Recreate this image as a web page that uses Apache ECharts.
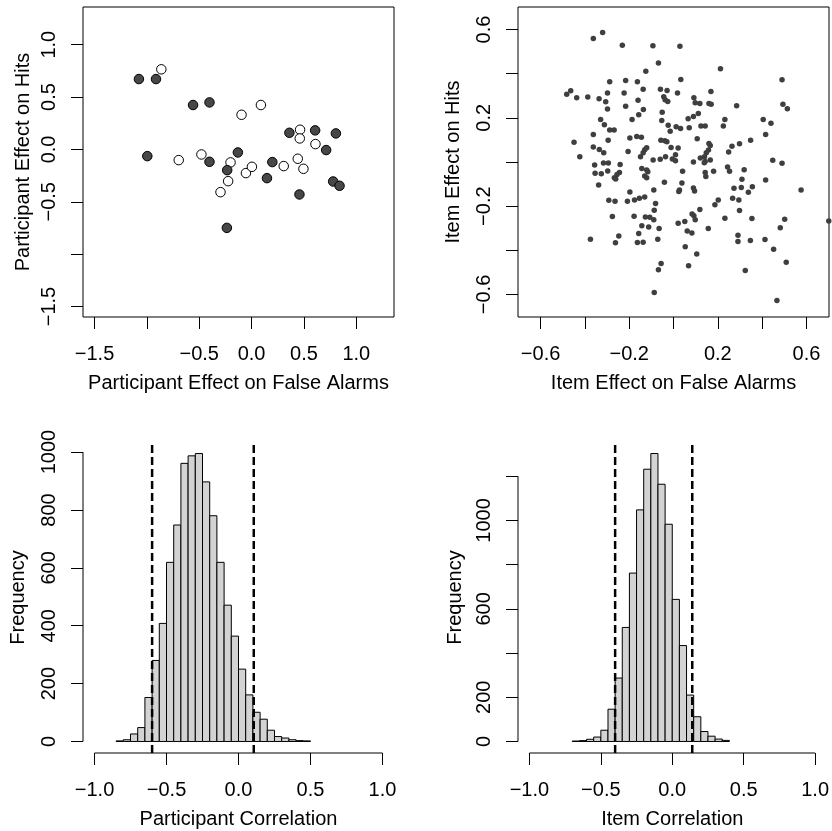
<!DOCTYPE html>
<html><head><meta charset="utf-8">
<script src="https://cdn.jsdelivr.net/npm/echarts@6/dist/echarts.min.js"></script>
<style>html,body{margin:0;padding:0;background:#fff}#c{width:832px;height:831px}</style>
</head><body><div id="c"></div>
<script>
// ---------- DATA ----------
const participantFilled = [
  [-1.076,0.672],[-0.913,0.672],[-0.559,0.424],[-0.402,0.449],[-0.996,-0.064],[-0.402,-0.118],
  [-0.131,-0.029],[-0.233,-0.198],[-0.236,-0.749],[0.147,-0.274],[0.198,-0.121],[0.361,0.159],
  [0.607,0.182],[0.805,0.153],[0.712,-0.006],[0.457,-0.430],[0.779,-0.306],[0.840,-0.347]
];
const participantOpen = [
  [-0.862,0.765],[-0.096,0.331],[0.089,0.424],[-0.696,-0.102],[-0.479,-0.048],[-0.201,-0.124],
  [-0.224,-0.303],[-0.297,-0.408],[-0.054,-0.226],[0.003,-0.166],[0.307,-0.159],[0.463,0.188],
  [0.460,0.105],[0.610,0.051],[0.441,-0.089],[0.495,-0.185]
];
const itemPoints = [
  [-0.362,0.559],[-0.320,0.586],[-0.231,0.529],[-0.093,0.526],[0.029,0.524],[-0.068,0.448],
  [0.212,0.422],[-0.125,0.411],[0.033,0.374],[0.490,0.372],[-0.288,0.363],[-0.216,0.369],
  [-0.163,0.363],[-0.137,0.329],[-0.059,0.329],[-0.029,0.324],[0.018,0.312],[0.169,0.319],
  [-0.482,0.307],[-0.464,0.323],[-0.437,0.291],[-0.387,0.294],[-0.336,0.286],[-0.298,0.313],
  [-0.306,0.273],[-0.223,0.313],[-0.160,0.280],[-0.044,0.295],[-0.026,0.274],[-0.038,0.282],
  [0.092,0.291],[0.098,0.268],[0.119,0.265],[0.160,0.265],[0.170,0.261],[0.285,0.255],
  [0.494,0.261],[0.514,0.241],[-0.298,0.240],[-0.216,0.252],[-0.136,0.238],[-0.157,0.214],
  [-0.051,0.225],[-0.053,0.188],[-0.187,0.193],[-0.329,0.193],[-0.312,0.169],[-0.288,0.145],
  [-0.268,0.145],[-0.362,0.124],[-0.295,0.099],[-0.449,0.090],[-0.197,0.109],[-0.166,0.115],
  [-0.145,0.112],[-0.057,0.099],[-0.039,0.096],[-0.030,0.092],[-0.024,0.166],[0.012,0.160],
  [0.032,0.152],[-0.015,0.139],[0.071,0.155],[0.066,0.196],[0.090,0.206],[0.112,0.220],
  [0.124,0.163],[0.143,0.163],[0.107,0.105],[0.232,0.193],[0.225,0.163],[0.405,0.193],
  [0.440,0.176],[0.416,0.124],[0.348,0.098],[0.298,0.083],[0.264,0.071],[0.249,0.045],
  [0.160,0.084],[0.166,0.075],[0.158,0.054],[0.148,0.042],[0.140,0.024],[0.121,0.018],
  [0.143,0.002],[0.166,0.009],[0.139,-0.003],[0.090,0.000],[0.021,0.063],[0.009,0.033],
  [-0.005,0.014],[0.009,0.006],[-0.011,0.066],[-0.060,0.012],[-0.036,0.024],[-0.092,0.009],
  [-0.121,0.065],[-0.130,0.056],[-0.137,0.042],[-0.149,0.024],[-0.205,0.047],[-0.315,0.042],
  [-0.335,0.057],[-0.362,0.068],[-0.423,0.024],[-0.356,-0.014],[-0.316,-0.005],[-0.294,-0.005],
  [-0.297,-0.041],[-0.326,-0.053],[-0.354,-0.051],[-0.338,-0.104],[-0.241,-0.011],[-0.244,-0.048],
  [-0.255,-0.057],[-0.267,-0.071],[-0.261,-0.077],[-0.143,-0.029],[-0.121,-0.036],[-0.116,-0.044],
  [-0.130,-0.063],[-0.121,-0.071],[-0.041,-0.092],[-0.089,-0.127],[-0.197,-0.136],[-0.208,-0.178],
  [-0.176,-0.172],[-0.154,-0.164],[-0.130,-0.158],[-0.292,-0.173],[-0.264,-0.178],[0.038,-0.095],
  [0.027,-0.127],[0.024,-0.134],[0.041,-0.042],[0.090,-0.118],[0.095,-0.131],[0.143,-0.048],
  [0.146,-0.066],[0.181,-0.042],[0.244,-0.023],[0.253,-0.042],[0.319,-0.035],[0.309,-0.078],
  [0.273,-0.119],[0.306,-0.116],[0.338,-0.137],[0.356,-0.112],[0.416,-0.081],[0.448,0.008],
  [0.490,-0.006],[0.576,-0.127],[0.267,-0.164],[0.295,-0.172],[0.202,-0.172],[0.187,-0.194],
  [0.298,-0.220],[0.232,-0.255],[0.354,-0.256],[0.119,-0.215],[0.092,-0.244],[0.084,-0.235],
  [0.098,-0.261],[0.021,-0.277],[0.051,-0.270],[0.062,-0.313],[0.083,-0.322],[0.157,-0.301],
  [0.053,-0.384],[0.105,-0.417],[0.068,-0.470],[-0.081,-0.188],[-0.087,-0.219],[-0.089,-0.261],
  [-0.127,-0.249],[-0.107,-0.250],[-0.178,-0.246],[-0.143,-0.289],[-0.112,-0.294],[-0.157,-0.324],
  [-0.163,-0.365],[-0.137,-0.363],[-0.065,-0.301],[-0.071,-0.350],[-0.247,-0.335],[-0.262,-0.366],
  [-0.276,-0.247],[-0.375,-0.350],[-0.056,-0.460],[-0.068,-0.488],[-0.087,-0.591],[0.291,-0.332],
  [0.291,-0.360],[0.347,-0.356],[0.413,-0.351],[0.452,-0.395],[0.482,-0.298],[0.502,-0.259],
  [0.509,-0.454],[0.324,-0.491],[0.467,-0.627],[0.701,-0.267]
];
// histogram bins (lower edges), width 0.05, and counts
const binWidth = 0.05;
const participantBinStarts = [-0.85,-0.80,-0.75,-0.70,-0.65,-0.60,-0.55,-0.50,-0.45,-0.40,-0.35,-0.30,-0.25,-0.20,-0.15,-0.10,-0.05,0.00,0.05,0.10,0.15,0.20,0.25,0.30,0.35,0.40,0.45];
const participantCounts   = [2,6,26,48,152,280,408,619,748,961,987,995,897,780,619,471,364,250,161,101,77,39,17,12,6,3,2];
const itemBinStarts = [-0.70,-0.65,-0.60,-0.55,-0.50,-0.45,-0.40,-0.35,-0.30,-0.25,-0.20,-0.15,-0.10,-0.05,0.00,0.05,0.10,0.15,0.20,0.25,0.30,0.35];
const itemCounts    = [2,4,10,20,51,146,287,516,762,1048,1232,1303,1164,983,643,434,210,112,45,24,11,5];
const participantInterval = [-0.60, 0.106];
const itemInterval = [-0.40, 0.14];
// tick values and labels
const pEffTicks = [-1.5,-1.0,-0.5,0.0,0.5,1.0];
const pEffLabels = [-1.5,-0.5,0.0,0.5,1.0];
const iEffTicks = [-0.6,-0.4,-0.2,0.0,0.2,0.4,0.6];
const iEffLabels = [-0.6,-0.2,0.2,0.6];
const corrTicks = [-1.0,-0.5,0.0,0.5,1.0];
const pFreqTicks = [0,200,400,600,800,1000];
const pFreqLabels = [0,200,400,600,800,1000];
const iFreqTicks = [0,200,400,600,800,1000,1200];
const iFreqLabels = [0,200,600,1000];

// ---------- CHART ----------
const FONT = 'Liberation Sans';
const minus = s => s.replace('-', '\u2212');
const fmt1 = v => minus((Math.abs(v) < 1e-9 ? 0 : v).toFixed(1));
const fmt0 = v => minus(String(Math.round(v)));

function axis(o) {
  return {
    type: 'value', gridIndex: o.grid, min: o.min, max: o.max,
    axisLine: { show: false, onZero: false },
    splitLine: { show: false },
    axisTick: { show: true, inside: false, length: 12, lineStyle: { color: '#000', width: 1 }, customValues: o.ticks },
    axisLabel: { show: true, customValues: o.labels, margin: o.margin, rotate: o.rotate || 0,
      fontFamily: FONT, fontSize: 20, color: '#000', formatter: o.fmt },
    name: o.name, nameLocation: 'middle', nameGap: o.nameGap,
    nameTextStyle: { fontFamily: FONT, fontSize: 20, color: '#000' }
  };
}

const pMax = Math.max(...participantCounts);
const iMax = Math.max(...itemCounts);
const pYmin = -0.04 * pMax, pYmax = 1.04 * pMax;
const iYmin = -0.04 * iMax, iYmax = 1.04 * iMax;
const hxMin = -1.08, hxMax = 1.08;

function histRender(params, api) {
  const p0 = api.coord([api.value(0), 0]);
  const p1 = api.coord([api.value(1), api.value(2)]);
  return { type: 'rect',
    shape: { x: p0[0], y: p1[1], width: p1[0] - p0[0], height: p0[1] - p1[1] },
    style: { fill: '#d3d3d3', stroke: '#000', lineWidth: 1 } };
}
function seg(xi, yi, data, style) {
  return { type: 'line', xAxisIndex: xi, yAxisIndex: yi, data: data, symbol: 'none',
    clip: false, silent: true, lineStyle: style, z: 5 };
}
const solid = { color: '#000', width: 1 };
const dashed = { color: '#000', width: 2.5, type: [8, 4] };

const option = {
  animation: false,
  backgroundColor: '#fff',
  textStyle: { fontFamily: FONT },
  grid: [
    { left: 83, top: 7, width: 311, height: 310, show: true, borderColor: '#000', borderWidth: 1 },
    { left: 518, top: 7, width: 311, height: 310, show: true, borderColor: '#000', borderWidth: 1 },
    { left: 83, top: 442, width: 311, height: 311 },
    { left: 518, top: 442, width: 311, height: 311 }
  ],
  xAxis: [
    axis({ grid: 0, min: -1.61, max: 1.36, ticks: pEffTicks, labels: pEffLabels, margin: 27, fmt: fmt1,
      name: 'Participant Effect on False Alarms', nameGap: 56 }),
    axis({ grid: 1, min: -0.702, max: 0.702, ticks: iEffTicks, labels: iEffLabels, margin: 27, fmt: fmt1,
      name: 'Item Effect on False Alarms', nameGap: 56 }),
    axis({ grid: 2, min: hxMin, max: hxMax, ticks: corrTicks, labels: corrTicks, margin: 27, fmt: fmt1,
      name: 'Participant Correlation', nameGap: 56 }),
    axis({ grid: 3, min: hxMin, max: hxMax, ticks: corrTicks, labels: corrTicks, margin: 27, fmt: fmt1,
      name: 'Item Correlation', nameGap: 56 })
  ],
  yAxis: [
    axis({ grid: 0, min: -1.60, max: 1.36, ticks: pEffTicks, labels: pEffLabels, margin: 24, rotate: 90, fmt: fmt1,
      name: 'Participant Effect on Hits', nameGap: 50 }),
    axis({ grid: 1, min: -0.702, max: 0.702, ticks: iEffTicks, labels: iEffLabels, margin: 24, rotate: 90, fmt: fmt1,
      name: 'Item Effect on Hits', nameGap: 55 }),
    axis({ grid: 2, min: pYmin, max: pYmax, ticks: pFreqTicks, labels: pFreqLabels, margin: 24, rotate: 90, fmt: fmt0,
      name: 'Frequency', nameGap: 55 }),
    axis({ grid: 3, min: iYmin, max: iYmax, ticks: iFreqTicks, labels: iFreqLabels, margin: 24, rotate: 90, fmt: fmt0,
      name: 'Frequency', nameGap: 53 })
  ],
  series: [
    { type: 'scatter', xAxisIndex: 0, yAxisIndex: 0, data: participantOpen, symbolSize: 9.5,
      itemStyle: { color: '#fff', borderColor: '#000', borderWidth: 1, opacity: 1 } },
    { type: 'scatter', xAxisIndex: 0, yAxisIndex: 0, data: participantFilled, symbolSize: 9.5,
      itemStyle: { color: '#474747', borderColor: '#000', borderWidth: 1, opacity: 1 } },
    { type: 'scatter', xAxisIndex: 1, yAxisIndex: 1, data: itemPoints, symbolSize: 5.5,
      itemStyle: { color: '#3f3f3f', opacity: 1 } },
    { type: 'custom', xAxisIndex: 2, yAxisIndex: 2, renderItem: histRender, encode: { x: [0, 1], y: 2 },
      data: participantBinStarts.map((s, i) => [s, s + binWidth, participantCounts[i]]) },
    { type: 'custom', xAxisIndex: 3, yAxisIndex: 3, renderItem: histRender, encode: { x: [0, 1], y: 2 },
      data: itemBinStarts.map((s, i) => [s, s + binWidth, itemCounts[i]]) },
    // R-style axis lines spanning first..last tick
    seg(2, 2, [[corrTicks[0], pYmin], [corrTicks[corrTicks.length - 1], pYmin]], solid),
    seg(2, 2, [[hxMin, pFreqTicks[0]], [hxMin, pFreqTicks[pFreqTicks.length - 1]]], solid),
    seg(3, 3, [[corrTicks[0], iYmin], [corrTicks[corrTicks.length - 1], iYmin]], solid),
    seg(3, 3, [[hxMin, iFreqTicks[0]], [hxMin, iFreqTicks[iFreqTicks.length - 1]]], solid),
    // interval dashed lines
    seg(2, 2, [[participantInterval[0], pYmin], [participantInterval[0], pYmax]], dashed),
    seg(2, 2, [[participantInterval[1], pYmin], [participantInterval[1], pYmax]], dashed),
    seg(3, 3, [[itemInterval[0], iYmin], [itemInterval[0], iYmax]], dashed),
    seg(3, 3, [[itemInterval[1], iYmin], [itemInterval[1], iYmax]], dashed)
  ]
};
const chart = echarts.init(document.getElementById('c'), null, { renderer: 'canvas' });
chart.setOption(option);
</script>
</body></html>
